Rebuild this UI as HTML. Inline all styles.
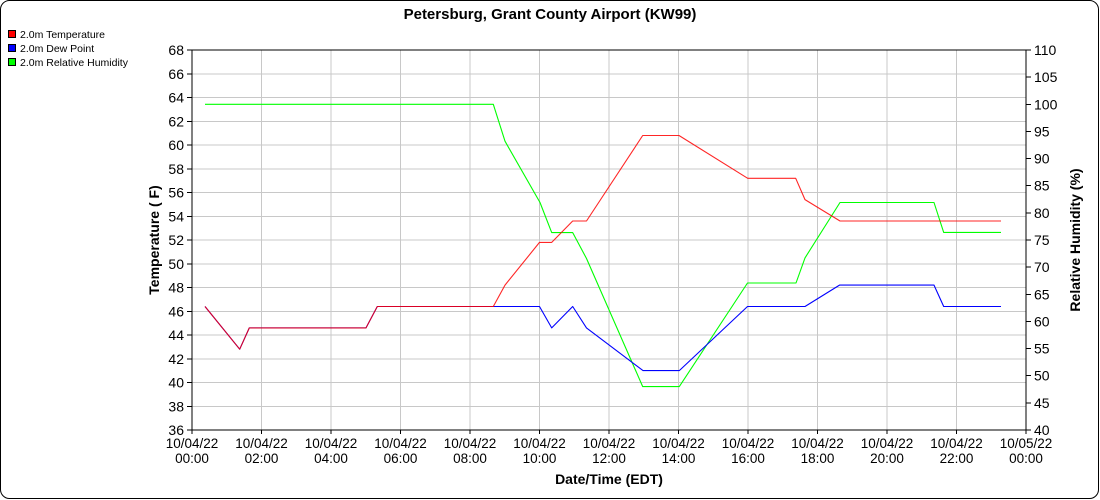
<!DOCTYPE html>
<html><head><meta charset="utf-8"><style>
html,body{margin:0;padding:0;background:#fff;}
svg{display:block;font-family:"Liberation Sans",Arial,sans-serif;}
</style></head><body>
<svg width="1100" height="500" viewBox="0 0 1100 500" xmlns="http://www.w3.org/2000/svg">
<rect x="0.5" y="0.5" width="1098" height="498" rx="9" ry="9" fill="#fff" stroke="#000" stroke-width="1"/>
<text x="550" y="19" font-size="15" font-weight="bold" text-anchor="middle" fill="#000">Petersburg, Grant County Airport (KW99)</text>
<!-- legend -->
<rect x="8.5" y="30.5" width="7" height="7" fill="#f00" stroke="#000" stroke-width="1"/>
<text x="20" y="38" font-size="10.5" fill="#000">2.0m Temperature</text>
<rect x="8.5" y="44.5" width="7" height="7" fill="#00f" stroke="#000" stroke-width="1"/>
<text x="20" y="52" font-size="10.5" fill="#000">2.0m Dew Point</text>
<rect x="8.5" y="58.5" width="7" height="7" fill="#0f0" stroke="#000" stroke-width="1"/>
<text x="20" y="66" font-size="10.5" fill="#000">2.0m Relative Humidity</text>
<!-- grid -->
<g stroke="#c8c8c8" stroke-width="1" shape-rendering="crispEdges">
<line x1="192" y1="406.25" x2="1026" y2="406.25"/>
<line x1="192" y1="382.5" x2="1026" y2="382.5"/>
<line x1="192" y1="358.75" x2="1026" y2="358.75"/>
<line x1="192" y1="335" x2="1026" y2="335"/>
<line x1="192" y1="311.25" x2="1026" y2="311.25"/>
<line x1="192" y1="287.5" x2="1026" y2="287.5"/>
<line x1="192" y1="263.75" x2="1026" y2="263.75"/>
<line x1="192" y1="240" x2="1026" y2="240"/>
<line x1="192" y1="216.25" x2="1026" y2="216.25"/>
<line x1="192" y1="192.5" x2="1026" y2="192.5"/>
<line x1="192" y1="168.75" x2="1026" y2="168.75"/>
<line x1="192" y1="145" x2="1026" y2="145"/>
<line x1="192" y1="121.25" x2="1026" y2="121.25"/>
<line x1="192" y1="97.5" x2="1026" y2="97.5"/>
<line x1="192" y1="73.75" x2="1026" y2="73.75"/>
<line x1="261.5" y1="50" x2="261.5" y2="430"/>
<line x1="331" y1="50" x2="331" y2="430"/>
<line x1="400.5" y1="50" x2="400.5" y2="430"/>
<line x1="470" y1="50" x2="470" y2="430"/>
<line x1="539.5" y1="50" x2="539.5" y2="430"/>
<line x1="609" y1="50" x2="609" y2="430"/>
<line x1="678.5" y1="50" x2="678.5" y2="430"/>
<line x1="748" y1="50" x2="748" y2="430"/>
<line x1="817.5" y1="50" x2="817.5" y2="430"/>
<line x1="887" y1="50" x2="887" y2="430"/>
<line x1="956.5" y1="50" x2="956.5" y2="430"/>
</g>
<!-- series -->
<g fill="none" stroke-width="1.1" stroke-linejoin="round">
<polyline stroke="#00ff00" points="205,104.3 493.3,104.3 505,141.2 540,202.5 551.7,232.6 572.7,232.6 586.5,258.5 642.7,386.6 679.3,386.6 747.5,283 796,283 805,257.9 840,202.5 934,202.5 943.7,232.4 1001,232.4"/>
<polyline stroke="#0000ff" points="205,306.5 239.7,349.2 249.3,327.9 366,327.9 377.3,306.5 539.5,306.5 551.7,327.9 572.7,306.5 586.5,327.9 643,370.6 679.3,370.6 747.5,306.5 805,306.5 839.5,285.1 934,285.1 943.7,306.5 1001,306.5"/>
<polyline stroke="#ff0000" stroke-opacity="0.85" points="205,306.5 239.7,349.2 249.3,327.9 366,327.9 377.3,306.5 493.3,306.5 505,285.1 539.5,242.4 551.7,242.4 572.7,221 586.5,221 642.7,135.5 679,135.5 747.7,178.3 795.7,178.3 805,199.6 840,221 1001,221"/>
</g>
<!-- frame -->
<rect x="192" y="50" width="834" height="380" fill="none" stroke="#000" stroke-width="1.2" shape-rendering="crispEdges"/>
<!-- left ticks -->
<g stroke="#000" stroke-width="1" shape-rendering="crispEdges">
<line x1="187" y1="430" x2="192" y2="430"/><line x1="187" y1="406.25" x2="192" y2="406.25"/><line x1="187" y1="382.5" x2="192" y2="382.5"/><line x1="187" y1="358.75" x2="192" y2="358.75"/><line x1="187" y1="335" x2="192" y2="335"/><line x1="187" y1="311.25" x2="192" y2="311.25"/><line x1="187" y1="287.5" x2="192" y2="287.5"/><line x1="187" y1="263.75" x2="192" y2="263.75"/><line x1="187" y1="240" x2="192" y2="240"/><line x1="187" y1="216.25" x2="192" y2="216.25"/><line x1="187" y1="192.5" x2="192" y2="192.5"/><line x1="187" y1="168.75" x2="192" y2="168.75"/><line x1="187" y1="145" x2="192" y2="145"/><line x1="187" y1="121.25" x2="192" y2="121.25"/><line x1="187" y1="97.5" x2="192" y2="97.5"/><line x1="187" y1="73.75" x2="192" y2="73.75"/><line x1="187" y1="50" x2="192" y2="50"/>
<!-- right ticks -->
<line x1="1026" y1="430" x2="1031" y2="430"/><line x1="1026" y1="402.86" x2="1031" y2="402.86"/><line x1="1026" y1="375.71" x2="1031" y2="375.71"/><line x1="1026" y1="348.57" x2="1031" y2="348.57"/><line x1="1026" y1="321.43" x2="1031" y2="321.43"/><line x1="1026" y1="294.29" x2="1031" y2="294.29"/><line x1="1026" y1="267.14" x2="1031" y2="267.14"/><line x1="1026" y1="240" x2="1031" y2="240"/><line x1="1026" y1="212.86" x2="1031" y2="212.86"/><line x1="1026" y1="185.71" x2="1031" y2="185.71"/><line x1="1026" y1="158.57" x2="1031" y2="158.57"/><line x1="1026" y1="131.43" x2="1031" y2="131.43"/><line x1="1026" y1="104.29" x2="1031" y2="104.29"/><line x1="1026" y1="77.14" x2="1031" y2="77.14"/><line x1="1026" y1="50" x2="1031" y2="50"/>
<!-- bottom ticks -->
<line x1="192" y1="430" x2="192" y2="434"/><line x1="261.5" y1="430" x2="261.5" y2="434"/><line x1="331" y1="430" x2="331" y2="434"/><line x1="400.5" y1="430" x2="400.5" y2="434"/><line x1="470" y1="430" x2="470" y2="434"/><line x1="539.5" y1="430" x2="539.5" y2="434"/><line x1="609" y1="430" x2="609" y2="434"/><line x1="678.5" y1="430" x2="678.5" y2="434"/><line x1="748" y1="430" x2="748" y2="434"/><line x1="817.5" y1="430" x2="817.5" y2="434"/><line x1="887" y1="430" x2="887" y2="434"/><line x1="956.5" y1="430" x2="956.5" y2="434"/><line x1="1026" y1="430" x2="1026" y2="434"/>
</g>
<!-- left labels -->
<g font-size="14" fill="#000" text-anchor="end">
<text x="184" y="435">36</text><text x="184" y="411.25">38</text><text x="184" y="387.5">40</text><text x="184" y="363.75">42</text><text x="184" y="340">44</text><text x="184" y="316.25">46</text><text x="184" y="292.5">48</text><text x="184" y="268.75">50</text><text x="184" y="245">52</text><text x="184" y="221.25">54</text><text x="184" y="197.5">56</text><text x="184" y="173.75">58</text><text x="184" y="150">60</text><text x="184" y="126.25">62</text><text x="184" y="102.5">64</text><text x="184" y="78.75">66</text><text x="184" y="55">68</text>
</g>
<!-- right labels -->
<g font-size="14" fill="#000" text-anchor="start">
<text x="1034" y="435">40</text><text x="1034" y="407.86">45</text><text x="1034" y="380.71">50</text><text x="1034" y="353.57">55</text><text x="1034" y="326.43">60</text><text x="1034" y="299.29">65</text><text x="1034" y="272.14">70</text><text x="1034" y="245">75</text><text x="1034" y="217.86">80</text><text x="1034" y="190.71">85</text><text x="1034" y="163.57">90</text><text x="1034" y="136.43">95</text><text x="1034" y="109.29">100</text><text x="1034" y="82.14">105</text><text x="1034" y="55">110</text>
</g>
<!-- x labels -->
<g font-size="13.5" fill="#000" text-anchor="middle">
<text x="192" y="448">10/04/22</text><text x="192" y="463">00:00</text>
<text x="261.5" y="448">10/04/22</text><text x="261.5" y="463">02:00</text>
<text x="331" y="448">10/04/22</text><text x="331" y="463">04:00</text>
<text x="400.5" y="448">10/04/22</text><text x="400.5" y="463">06:00</text>
<text x="470" y="448">10/04/22</text><text x="470" y="463">08:00</text>
<text x="539.5" y="448">10/04/22</text><text x="539.5" y="463">10:00</text>
<text x="609" y="448">10/04/22</text><text x="609" y="463">12:00</text>
<text x="678.5" y="448">10/04/22</text><text x="678.5" y="463">14:00</text>
<text x="748" y="448">10/04/22</text><text x="748" y="463">16:00</text>
<text x="817.5" y="448">10/04/22</text><text x="817.5" y="463">18:00</text>
<text x="887" y="448">10/04/22</text><text x="887" y="463">20:00</text>
<text x="956.5" y="448">10/04/22</text><text x="956.5" y="463">22:00</text>
<text x="1026" y="448">10/05/22</text><text x="1026" y="463">00:00</text>
</g>
<!-- axis titles -->
<text x="609" y="484" font-size="14" font-weight="bold" text-anchor="middle" fill="#000">Date/Time (EDT)</text>
<text transform="translate(159,240) rotate(-90)" font-size="14" font-weight="bold" text-anchor="middle" fill="#000">Temperature ( F)</text>
<text transform="translate(1080,240) rotate(-90)" font-size="14" font-weight="bold" text-anchor="middle" fill="#000">Relative Humidity (%)</text>
</svg>
</body></html>
